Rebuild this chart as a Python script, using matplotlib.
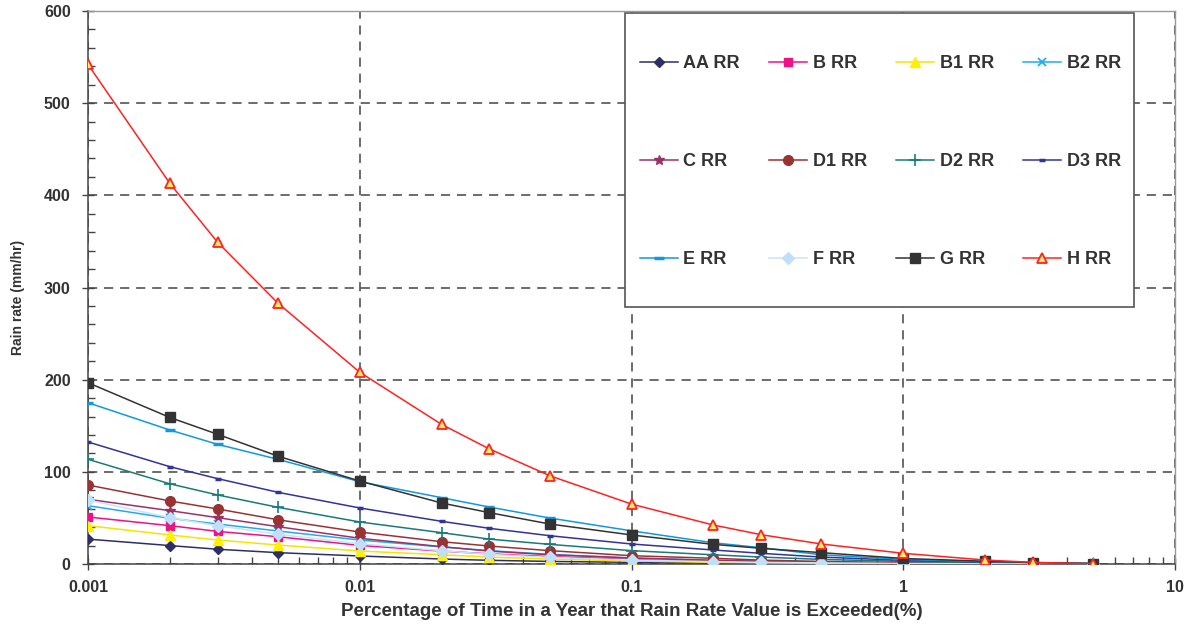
import matplotlib
matplotlib.use("Agg")
import matplotlib.pyplot as plt
from matplotlib.patches import Rectangle
from matplotlib.ticker import MultipleLocator, LogLocator, FixedLocator, NullFormatter

plt.rcParams['font.family'] = ['Liberation Sans', 'DejaVu Sans']

pct = [0.001, 0.002, 0.003, 0.005, 0.01, 0.02, 0.03, 0.05, 0.1, 0.2, 0.3, 0.5, 1, 2, 3, 5]

aa = [27, 20, 16, 12.3, 8.7, 5.4, 4.0, 2.8, 1.8, 1.0, 0.7, 0.4, 0.2, 0.1, 0.05, 0.0]
b  = [51, 41.6, 35.4, 29.6, 20.2, 14, 11, 8, 5, 3, 2.2, 1.5, 0.8, 0.4, 0.2, 0.1]
b1 = [41.6, 31.5, 26, 20.6, 14.1, 10, 7.5, 5.3, 3.3, 1.8, 1.3, 0.8, 0.4, 0.2, 0.1, 0.0]
b2 = [63.3, 49.6, 43.4, 35.8, 26, 18.5, 14.5, 10.5, 6.5, 4, 3, 2, 1.1, 0.6, 0.4, 0.2]
c  = [70.2, 57.9, 50.3, 40.5, 27.9, 18.8, 14, 10, 6.5, 4, 3, 2, 1, 0.5, 0.3, 0.1]
d1 = [85.7, 68.4, 59.7, 48, 34.7, 24.2, 19.5, 14.5, 9, 6.2, 4.2, 2.8, 1.5, 0.8, 0.5, 0.2]
d2 = [113.6, 87, 74.9, 61.5, 45.6, 34, 27, 21.3, 14.5, 10, 7.5, 5, 2.8, 1.5, 1.0, 0.3]
d3 = [132.4, 105.6, 92.6, 77.8, 60.8, 46.3, 38.7, 30.7, 21.7, 15.2, 11.6, 7.5, 4, 2, 1.2, 0.5]
e  = [175, 145.4, 129.8, 113.6, 89.3, 72, 61.8, 49.9, 36, 23, 17.7, 10, 5, 2.5, 1.5, 0.5]
f  = [69.4, 50.3, 41.6, 32.2, 22, 14.4, 10.5, 7.2, 4.3, 2.5, 1.8, 1.2, 0.5, 0.2, 0.1, 0.0]
g  = [196.7, 159, 140.7, 117, 90, 66.2, 55.7, 43.4, 31.5, 21.3, 17, 12.3, 6, 3, 1.5, 0.5]
h  = [542, 413, 349, 283, 208, 151.5, 124.8, 95.8, 65, 42.3, 31.8, 21.7, 11.6, 4.3, 1.8, 0.3]

labels = ['AA RR', 'B RR', 'B1 RR', 'B2 RR', 'C RR', 'D1 RR', 'D2 RR', 'D3 RR',
          'E RR', 'F RR', 'G RR', 'H RR']
series = [aa, b, b1, b2, c, d1, d2, d3, e, f, g, h]

styles = [
    dict(color='#2E2E66', marker='D', ms=5, mfc='#2E2E66', mec='#2E2E66'),
    dict(color='#EE1188', marker='s', ms=6, mfc='#EE1188', mec='#EE1188'),
    dict(color='#F2E600', marker='^', ms=7, mfc='#FFF000', mec='#FFF000'),
    dict(color='#22AAEE', marker='x', ms=6, mfc='none', mec='#22AAEE', mew=1.3),
    dict(color='#993366', marker='*', ms=7, mfc='#993366', mec='#993366'),
    dict(color='#993333', marker='o', ms=7, mfc='#993333', mec='#993333'),
    dict(color='#1A7A7A', marker='+', ms=8, mfc='#1A7A7A', mec='#1A7A7A', mew=1.2),
    dict(color='#333399', marker='_', ms=5, mfc='#333399', mec='#333399', mew=2.5),
    dict(color='#1199DD', marker='_', ms=7, mfc='#1199DD', mec='#1199DD', mew=2.5),
    dict(color='#C8E4F8', marker='D', ms=6, mfc='#BFE0F8', mec='#BFE0F8'),
    dict(color='#333333', marker='s', ms=7.5, mfc='#333333', mec='#333333'),
    dict(color='#FF2222', marker='^', ms=7, mfc='#FFEE66', mec='#FF2222', mew=1.3),
]

W, H = 1193, 629
L, R, T, B = 88, 1175, 11, 564
fig = plt.figure(figsize=(W/100, H/100), dpi=100)
ax = fig.add_axes([L/W, 1-B/H, (R-L)/W, (B-T)/H])
aw, ah = R - L, B - T

handles = []
for ys, lab, st in zip(series, labels, styles):
    ln, = ax.plot(pct, ys, label=lab, lw=1.1, zorder=3, **st)
    handles.append(ln)

ax.set_xscale('log')
ax.set_xlim(0.001, 10)
ax.set_ylim(0, 600)
ax.yaxis.set_major_locator(MultipleLocator(100))
ax.yaxis.set_minor_locator(MultipleLocator(20))
ax.xaxis.set_major_locator(FixedLocator([0.001, 0.01, 0.1, 1, 10]))
ax.xaxis.set_minor_locator(LogLocator(base=10, subs=range(2, 10)))
ax.xaxis.set_minor_formatter(NullFormatter())
ax.set_xticklabels(['0.001', '0.01', '0.1', '1', '10'])

ax.tick_params(which='major', direction='inout', length=9, width=1, color='#444444',
               labelsize=11.5, labelcolor='#333333')
ax.tick_params(axis='x', which='major', pad=7)
ax.tick_params(axis='y', which='major', pad=8)
ax.tick_params(which='minor', direction='in', length=5, width=1, color='#444444')
for lab in ax.get_xticklabels() + ax.get_yticklabels():
    lab.set_fontweight('bold')

ax.grid(True, which='major', linestyle=(0, (6, 4.5)), color='#444444', lw=1.1, zorder=1)
ax.set_axisbelow(True)

for s in ['left', 'bottom']:
    ax.spines[s].set_color('#444444')
    ax.spines[s].set_linewidth(1.1)
for s in ['top', 'right']:
    ax.spines[s].set_color('#999999')
    ax.spines[s].set_linewidth(1.0)

ax.set_xlabel('Percentage of Time in a Year that Rain Rate Value is Exceeded(%)',
              fontsize=13.5, fontweight='bold', color='#333333', labelpad=6)
ax.set_ylabel('Rain rate (mm/hr)', fontsize=10, fontweight='bold', color='#333333')
ax.yaxis.set_label_coords((25 - L)/aw, (B - 297)/ah)

# legend frame (white box covering the grid)
bx0, bx1, by0, by1 = 625, 1134, 13, 307
frame = Rectangle(((bx0-L)/aw, (B-by1)/ah), (bx1-bx0)/aw, (by1-by0)/ah,
                  transform=ax.transAxes, facecolor='white', edgecolor='#555555',
                  lw=1.2, zorder=2.5)
ax.add_patch(frame)

order = [0, 4, 8, 1, 5, 9, 2, 6, 10, 3, 7, 11]
leg = ax.legend([handles[i] for i in order], [labels[i] for i in order], ncol=4,
                loc='upper left',
                bbox_to_anchor=((640-L)/aw, (B-55)/ah, (1121-640)/aw, 0.0),
                mode='expand', frameon=False,
                prop=dict(size=13, weight='bold'), labelspacing=4.5, borderpad=0,
                handlelength=2.1, handletextpad=0.3, borderaxespad=0)
leg.set_zorder(4)
for t in leg.get_texts():
    t.set_color('#333333')

fig.savefig('out.png', dpi=100)
